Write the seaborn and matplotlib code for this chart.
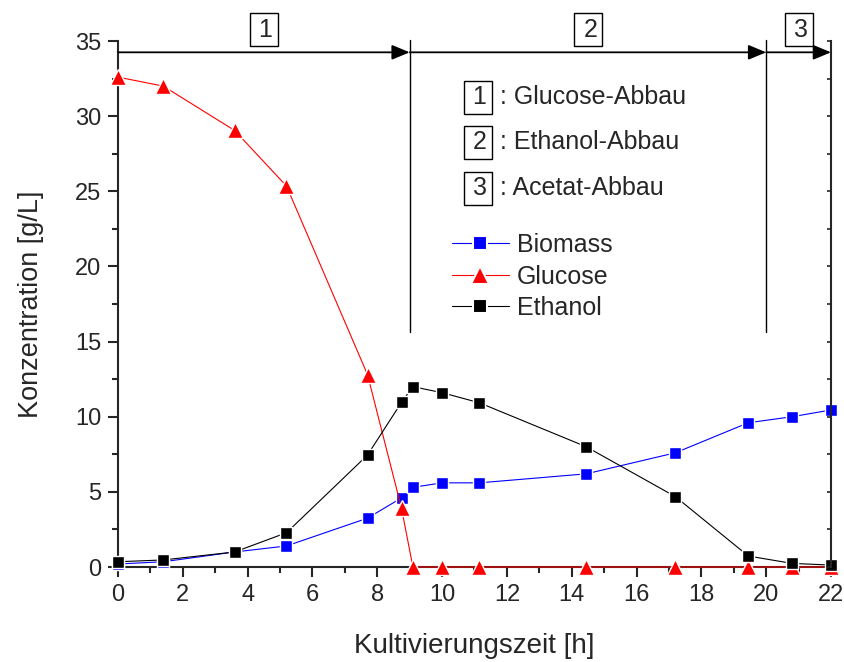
import numpy as np
import pandas as pd
import matplotlib
matplotlib.use("Agg")
import matplotlib.pyplot as plt
import seaborn as sns
from matplotlib.lines import Line2D
from matplotlib.ticker import MultipleLocator

# ================= data =================
time_h = [0.0, 1.4, 3.6, 5.2, 7.7, 8.75, 9.1, 10.0, 11.15, 14.45, 17.2, 19.45, 20.8, 22.0]
biomass = [0.2, 0.35, 1.0, 1.4, 3.25, 4.6, 5.3, 5.6, 5.6, 6.2, 7.6, 9.6, 10.0, 10.45]
glucose = [32.6, 32.0, 29.05, 25.35, 12.8, 3.9, 0.0, 0.0, 0.0, 0.0, 0.0, 0.0, 0.0, 0.0]
ethanol = [0.35, 0.47, 1.0, 2.28, 7.45, 10.96, 12.0, 11.6, 10.93, 8.0, 4.68, 0.73, 0.24, 0.13]

series_names = ["Biomass", "Glucose", "Ethanol"]
phase_bounds = [0, 9, 20, 22]
phase_labels = ["1", "2", "3"]
phase_names = ["Glucose-Abbau", "Ethanol-Abbau", "Acetat-Abbau"]

# ================= style =================
sns.set_style("ticks")
plt.rcParams['font.family'] = ['Liberation Sans', 'DejaVu Sans']
plt.rcParams['axes.linewidth'] = 1.5

df = pd.DataFrame({"t": time_h, "Biomass": biomass, "Glucose": glucose, "Ethanol": ethanol})

fig = plt.figure(figsize=(8.45, 6.62), dpi=100)
ax = fig.add_axes([0.1396, 0.1435, 0.8438, 0.7945])

styles = {
    "Biomass": dict(color="#0000ff", marker="s", ms=9),
    "Glucose": dict(color="#ff0000", marker="^", ms=11.5),
    "Ethanol": dict(color="#000000", marker="s", ms=9),
}
for name in series_names:
    st = styles[name]
    sns.lineplot(data=df, x="t", y=name, ax=ax, color=st["color"], marker=st["marker"],
                 markersize=st["ms"], markeredgewidth=1.0, markeredgecolor='white',
                 linewidth=0.8, clip_on=False, zorder=3)

ax.set_xlim(0, 22)
ax.set_ylim(0, 35)
ax.xaxis.set_major_locator(MultipleLocator(2))
ax.xaxis.set_minor_locator(MultipleLocator(1))
ax.yaxis.set_major_locator(MultipleLocator(5))
ax.yaxis.set_minor_locator(MultipleLocator(2.5))
ax.tick_params(which='major', direction='out', length=7, width=1.5, labelsize=17, pad=5)
ax.tick_params(which='minor', direction='out', length=4, width=1.5)
ax.spines['top'].set_visible(False)
ax.spines['right'].set_visible(False)

# right axis with small inward ticks
ax2 = ax.twinx()
ax2.set_ylim(0, 35)
ax2.yaxis.set_major_locator(MultipleLocator(2.5))
ax2.tick_params(axis='y', direction='in', length=3, width=1.2, labelright=False)
for s in ['top', 'left', 'bottom']:
    ax2.spines[s].set_visible(False)
ax2.spines['right'].set_linewidth(1.5)

ax.set_xlabel("Kultivierungszeit [h]", fontsize=20, labelpad=20)
ax.set_ylabel("Konzentration [g/L]", fontsize=19.5, labelpad=22)

# phase arrows, separators and boxed labels
arrow_y = 34.25
box = dict(boxstyle='square,pad=0.18', fc='white', ec='black', lw=1)
for i in range(3):
    x0, x1 = phase_bounds[i], phase_bounds[i + 1]
    ax.annotate("", xy=(x1, arrow_y), xytext=(x0, arrow_y),
                arrowprops=dict(arrowstyle='-|>,head_length=0.6,head_width=0.25',
                                color='black', lw=1.3,
                                mutation_scale=18, shrinkA=0, shrinkB=0),
                annotation_clip=False)
    ax.text((x0 + x1) / 2, 35.75, r"$\,$" + phase_labels[i] + r"$\,$", fontsize=18,
            ha='center', va='center', bbox=box, clip_on=False)
for xb in phase_bounds[1:3]:
    ax.plot([xb, xb], [15.65, 35.05], color='black', lw=1.0, clip_on=False)

# boxed phase explanation
row_y = [31.27, 28.25, 25.2]
for lab, name, yy in zip(phase_labels, phase_names, row_y):
    ax.text(11.1, yy, r"$\,$" + lab + r"$\,$", fontsize=18, ha='center', va='center', bbox=box)
    ax.text(11.8, yy, ": " + name, fontsize=18, ha='left', va='center')

handles = [Line2D([], [], color=styles[n]["color"], marker=styles[n]["marker"],
                  markersize=styles[n]["ms"] + 1, markeredgewidth=1.5, markeredgecolor='white',
                  linewidth=0.8)
           for n in series_names]
ax.legend(handles, series_names, loc='upper left', bbox_to_anchor=(0.468, 0.635),
          frameon=False, fontsize=18, handlelength=2.3, handletextpad=0.32,
          labelspacing=0.3, borderpad=0, borderaxespad=0)

plt.savefig("out.png", dpi=100)
